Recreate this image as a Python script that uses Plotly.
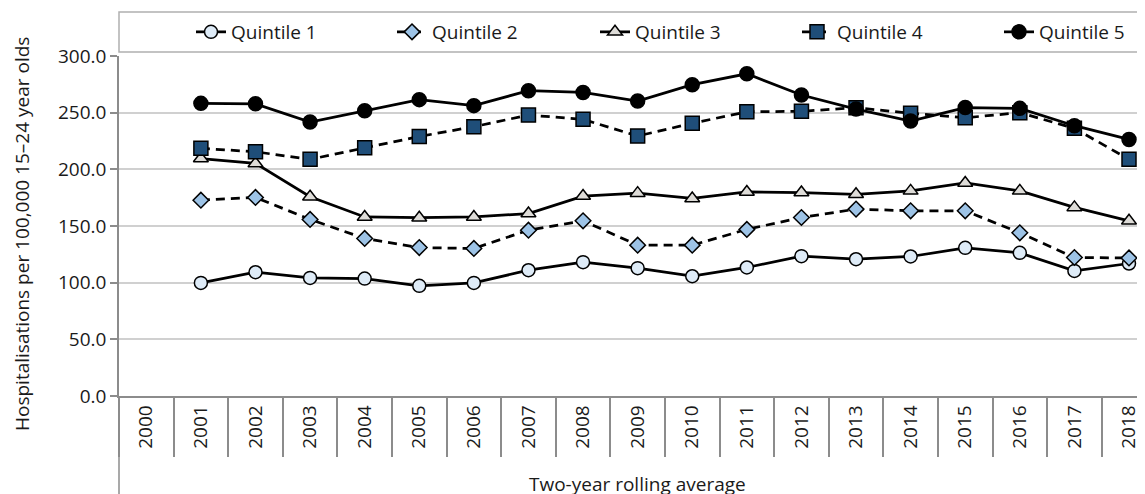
import plotly.graph_objects as go

years = [str(y) for y in range(2000, 2019)]

q1 = [None, 99.8, 109.2, 104.2, 103.6, 97.2, 99.8, 111.0, 118.1, 112.8, 105.7, 113.4, 123.4, 120.7, 123.1, 130.7, 126.3, 110.4, 116.9]
q2 = [None, 172.8, 175.2, 155.8, 139.0, 131.0, 130.2, 146.3, 154.6, 133.1, 133.1, 147.0, 157.5, 164.9, 163.4, 163.4, 144.0, 122.2, 121.8]
q3 = [None, 209.5, 205.2, 175.8, 158.0, 157.3, 158.0, 161.0, 176.4, 179.0, 174.3, 180.0, 179.5, 178.0, 181.0, 188.0, 181.0, 166.4, 154.6]
q4 = [None, 218.5, 215.5, 208.8, 219.0, 229.0, 237.6, 247.9, 244.1, 229.4, 240.6, 250.8, 251.2, 254.4, 249.5, 245.5, 250.0, 236.2, 208.8]
q5 = [None, 258.2, 257.8, 241.7, 251.7, 261.5, 256.2, 269.4, 267.8, 260.3, 274.7, 284.3, 265.6, 253.2, 242.6, 254.5, 253.8, 238.5, 226.4]

names = ["Quintile 1", "Quintile 2", "Quintile 3", "Quintile 4", "Quintile 5"]
series = [q1, q2, q3, q4, q5]
symbols = ["circle", "diamond", "triangle-up", "square", "circle"]
fills = ["#DEEBF7", "#9DC3E6", "#DEDCD8", "#1F4E79", "#000000"]
dashes = ["solid", "9px,6px", "solid", "9px,6px", "solid"]
sizes = [13, 12, 13, 14, 14]

FONT = "Open Sans"
FS = 19
# the page body adds an 8px offset; layout numbers below are in figure pixels
W, H = 1137, 486
L, R, T, B = 111, 0, 48, 98
PW, PH = W - L - R, H - T - B

legend_text_x = [228, 429, 632, 834, 1036]  # figure px where legend text starts

fig = go.Figure()
for i, (n, s, sym, fc, d, sz) in enumerate(zip(names, series, symbols, fills, dashes, sizes)):
    fig.add_trace(go.Scatter(
        x=years, y=s, name=n, mode="lines+markers",
        line=dict(color="black", width=2.75, dash=d),
        marker=dict(symbol=sym, size=sz, color=fc, line=dict(color="black", width=1.5)),
        connectgaps=False,
        legend="legend" if i == 0 else f"legend{i+1}",
    ))

legend_common = dict(
    orientation="h", xanchor="left", yanchor="middle",
    y=(H - B - 24) / PH, bgcolor="rgba(0,0,0,0)",
    font=dict(family=FONT, size=FS, color="#1a1a1a"), itemclick=False,
)
legends = {}
for i, tx in enumerate(legend_text_x):
    key = "legend" if i == 0 else f"legend{i+1}"
    legends[key] = dict(legend_common, x=(tx - 45 - L) / PW)

fig.update_layout(
    width=W, height=H,
    margin=dict(l=L, r=R, t=T, b=B, autoexpand=False),
    paper_bgcolor="white", plot_bgcolor="white",
    font=dict(family=FONT, size=FS, color="#1a1a1a"),
    showlegend=True,
    **legends,
    xaxis=dict(
        type="category", range=[-0.5, 18 + 16 / 54.6],
        tickson="boundaries", ticks="outside", ticklen=59, tickwidth=1.5,
        tickcolor="#8c8c8c", tickangle=-90,
        showline=True, linecolor="#8c8c8c", linewidth=1.5,
        showgrid=False, ticklabelstandoff=0,
        tickfont=dict(size=FS),
    ),
    yaxis=dict(
        range=[0, 300], dtick=50, tickformat=".1f",
        ticks="outside", ticklen=7, tickwidth=1.5, tickcolor="#8c8c8c",
        showline=True, linecolor="#8c8c8c", linewidth=1.5,
        gridcolor="#d0d0d0", gridwidth=1.5, zeroline=False,
        tickfont=dict(size=FS),
    ),
    shapes=[
        dict(type="rect", xref="paper", yref="paper",
             x0=0, x1=1.05, y0=(H - B - 44) / PH, y1=(H - B - 4) / PH,
             line=dict(color="#b0b0b0", width=1.5), layer="below"),
        dict(type="line", xref="paper", yref="paper",
             x0=0, x1=0, y0=0, y1=-B / PH,
             line=dict(color="#8c8c8c", width=1.5)),
    ],
    annotations=[
        dict(text="Two-year rolling average", xref="paper", yref="paper",
             x=(629 - L) / PW, y=-(476 - (H - B)) / PH, showarrow=False,
             xanchor="center", yanchor="middle", font=dict(size=FS)),
        dict(text="Hospitalisations per 100,000 15\u201324 year olds", xref="paper", yref="paper",
             x=-(L - 14) / PW, y=(H - B - 226) / PH, showarrow=False, textangle=-90,
             xanchor="center", yanchor="middle", font=dict(size=FS)),
    ],
)

fig.write_html("out.html")
